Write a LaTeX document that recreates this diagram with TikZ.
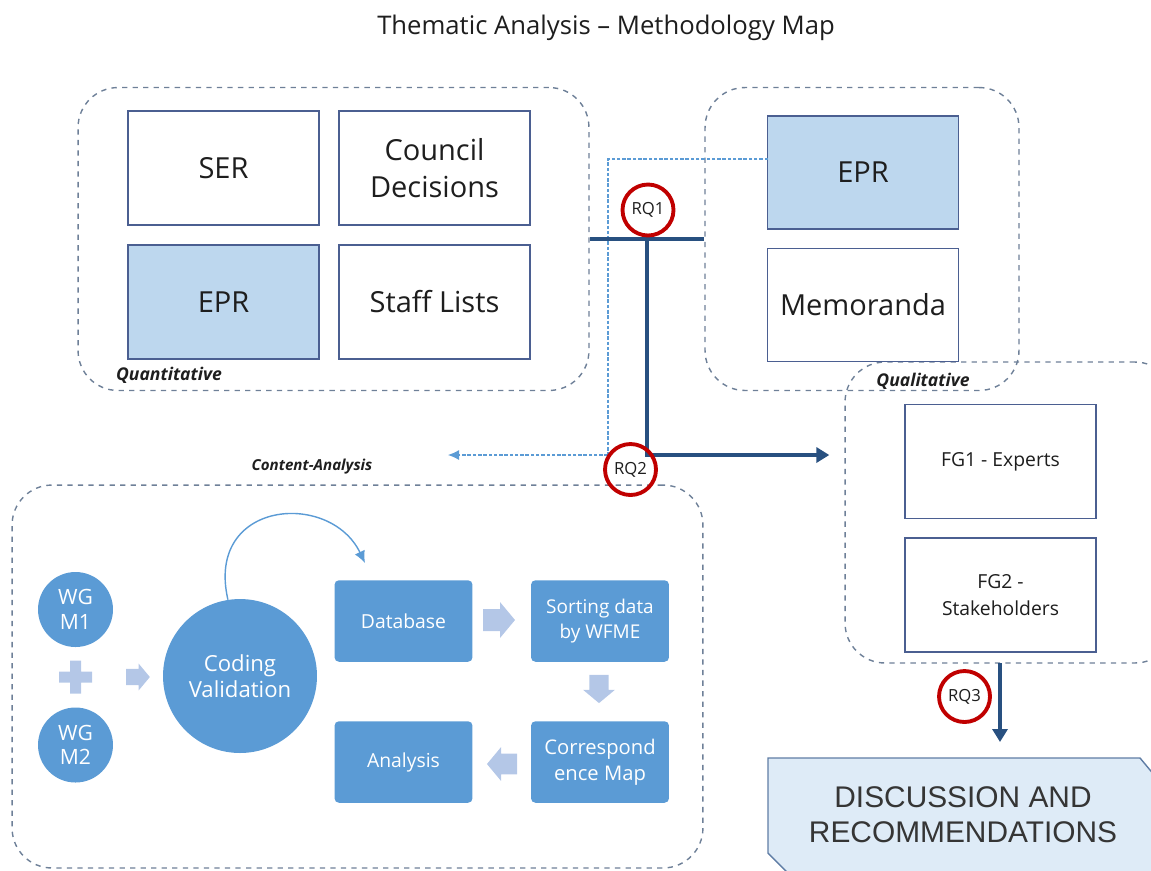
\documentclass[tikz,border=0pt]{standalone}
\usepackage{fontspec}
\setmainfont{Open Sans}
\newfontfamily\discfont{Liberation Sans}
\usetikzlibrary{positioning,arrows.meta}

\definecolor{flowblue}{RGB}{91,155,213}
\definecolor{pale}{RGB}{180,199,231}
\definecolor{lightfill}{RGB}{189,215,238}
\definecolor{boxline}{RGB}{75,95,145}
\definecolor{grpline}{RGB}{110,128,152}
\definecolor{darkln}{RGB}{40,80,128}
\definecolor{rqred}{RGB}{192,0,0}
\definecolor{discfill}{RGB}{222,235,247}
\definecolor{discline}{RGB}{95,125,165}
\definecolor{ink}{RGB}{30,30,30}

\begin{document}
\begin{tikzpicture}[x=0.02cm, y=-0.02cm,
    text=ink,
    grp/.style={draw=grpline, dashed, line width=0.8pt, rounded corners=0.8cm, inner sep=0pt},
    srcbox/.style={draw=boxline, line width=0.7pt, fill=white, minimum width=3.82cm, minimum height=2.28cm, align=center, font=\fontsize{16.5}{21}\selectfont},
    fgbox/.style={srcbox, font=\fontsize{11}{15}\selectfont},
    flowbox/.style={fill=flowblue, rounded corners=2.5pt, minimum width=2.76cm, minimum height=1.63cm, align=center, text=white, font=\fontsize{11}{14}\selectfont},
    wg/.style={circle, fill=flowblue, text=white, minimum size=1.5cm, inner sep=0pt, align=center, font=\fontsize{12}{14}\selectfont},
    rq/.style={circle, draw=rqred, line width=2.2pt, minimum size=1.02cm, inner sep=0pt, font=\fontsize{9.5}{10}\selectfont},
    blkarr/.pic={\fill[pale] (-16,-11) -- (1,-11) -- (1,-18) -- (16,0) -- (1,18) -- (1,11) -- (-16,11) -- cycle;},
    tag/.style={font=\fontsize{10}{12}\selectfont\bfseries\itshape},
    mainln/.style={draw=darkln, line width=2.2pt},
    dotln/.style={draw=flowblue, line width=0.6pt, dash pattern=on 2pt off 1pt}
  ]
  \useasboundingbox (0,0) rectangle (1151,870);

  \node[font=\fontsize{14.6}{17}\selectfont] (title) at (606,28) {Thematic Analysis – Methodology Map};

  % dashed groups
  \node[grp, minimum width=10.22cm, minimum height=6.06cm] (quant) at (333.5,239) {};
  \node[grp, minimum width=6.28cm, minimum height=6.06cm] (qualA) at (862,239) {};
  \node[grp, minimum width=6.6cm, minimum height=6.02cm] (qualB) at (1010,512.5) {};
  \node[grp, minimum width=13.82cm, minimum height=7.66cm] (content) at (357.5,676.5) {};

  \node[tag] (tquant) at (169,375) {Quantitative};
  \node[tag] (tqual) at (923,381) {Qualitative};
  \node[tag, font=\fontsize{8.6}{10}\selectfont\bfseries\itshape] (tcont) at (312,467) {Content-Analysis};

  % sources
  \node[srcbox] (ser) at (223.5,168) {SER};
  \node[srcbox] (council) at (434.5,168) {Council\\Decisions};
  \node[srcbox, fill=lightfill] (eprA) at (223.5,302) {EPR};
  \node[srcbox] (staff) at (434.5,302) {Staff Lists};
  \node[srcbox, fill=lightfill, minimum height=2.26cm] (eprB) at (863,172.5) {EPR};
  \node[srcbox, minimum height=2.26cm] (memo) at (863,305) {Memoranda};
  \node[fgbox] (fg1) at (1000.5,461.5) {FG1 - Experts};
  \node[fgbox] (fg2) at (1000.5,595) {FG2 -\\Stakeholders};

  % connectors
  \coordinate (d0) at (768,159);
  \coordinate (d1) at (608,455);
  \coordinate (d2) at (448,455);
  \draw[dotln] (d0) -| (d1);
  \draw[dotln, -{Latex[length=2.2mm,width=2mm]}] (d1) -- (d2);

  \coordinate (j1) at (647,239);
  \coordinate (j2) at (647,455);
  \draw[mainln] (quant.east) -- (qualA.west);
  \draw[mainln, -{Triangle[length=2.6mm,width=3mm]}, shorten >=0.3cm] (j1) -- (j2) -- (j2 -| qualB.west);
  \coordinate (q3) at (1000,663);
  \draw[mainln, -{Triangle[length=2.6mm,width=3mm]}] (q3) -- (1000,742);

  \node[rq] (rq1) at (648,210) {RQ1};
  \node[rq] (rq2) at (630.5,469.5) {RQ2};
  \node[rq] (rq3) at (964.5,696.5) {RQ3};

  % content analysis flow
  \node[wg] (wg1) at (75.5,609.5) {WG\\M1};
  \node[wg] (wg2) at (75.5,745) {WG\\M2};
  \fill[pale] (59,671.5) rectangle (92,682.5) (70,660.5) rectangle (81,693.5);
  \pic[scale=0.74] at (138,677) {blkarr};
  \node[wg, minimum size=3.08cm, font=\fontsize{12.6}{15}\selectfont] (cv) at (240,676) {Coding\\Validation};

  \node[flowbox] (db) at (403.5,621) {Database};
  \node[flowbox, font=\fontsize{10.8}{14}\selectfont] (sort) at (600,621) {Sorting data\\by WFME};
  \node[flowbox, font=\fontsize{11.5}{14.5}\selectfont] (corr) at (600,762) {Correspond\\ence Map};
  \node[flowbox] (ana) at (403.5,762) {Analysis};

  \pic at (499,620) {blkarr};
  \pic[rotate=-90, scale=0.88] at (599,689) {blkarr};
  \pic[rotate=180, scale=0.94] at (502,764) {blkarr};

  \coordinate (cend) at (365,563);
  \draw[flowblue, line width=0.8pt, -{Latex[length=2.4mm,width=2.2mm]}] (cv.99) .. controls (205,500) and (330,490) .. (cend);

  % outcome
  \fill[discfill] (768,758) -- (1140,758) -- (1165,788) -- (1165,900) -- (815,900) -- (768,853) -- cycle;
  \draw[discline, line width=0.8pt] (1165,788) -- (1140,758) -- (768,758) -- (768,853) -- (815,900);
  \node[font=\discfont\fontsize{17}{20}\selectfont, align=center, text=ink!90] (disc) at (963,815) {DISCUSSION AND\\RECOMMENDATIONS};
\end{tikzpicture}
\end{document}
